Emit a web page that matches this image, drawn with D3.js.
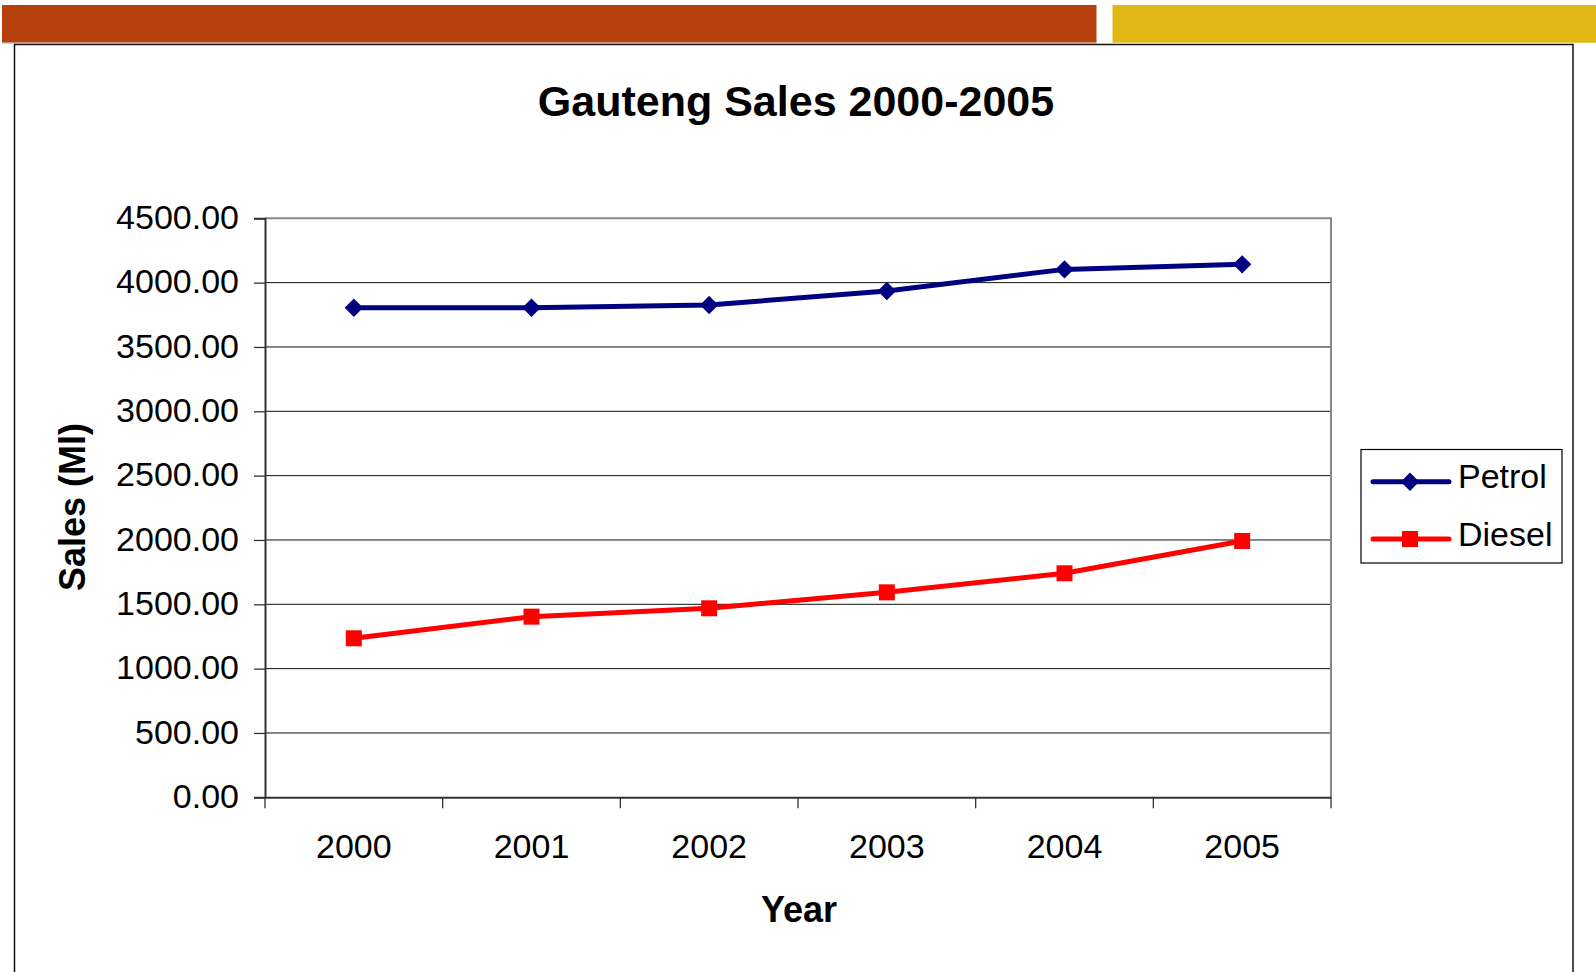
<!DOCTYPE html>
<html>
<head>
<meta charset="utf-8">
<script src="https://cdn.jsdelivr.net/npm/d3@7"></script>
<style>
  body { margin: 0; background: #fff; }
  svg { display: block; font-family: "Liberation Sans", Arial, sans-serif; }
</style>
</head>
<body>
<div id="chart"></div>
<script>
// data
var years = ["2000", "2001", "2002", "2003", "2004", "2005"];
var petrol = [3805, 3805, 3826, 3935, 4103, 4142];
var diesel = [1236, 1404, 1469, 1593, 1741, 1992];
var yTicks = [0, 500, 1000, 1500, 2000, 2500, 3000, 3500, 4000, 4500];
var seriesNames = ["Petrol", "Diesel"];

var svgWidth = 1596, svgHeight = 972;
var plot = {left: 265, right: 1331, top: 218.3, bottom: 797.3};
var petrolColor = "#000080", dieselColor = "#ff0000";

var svg = d3.select("#chart").append("svg")
    .attr("width", svgWidth).attr("height", svgHeight);

// slide header bars + frame
svg.append("rect").attr("x", 2).attr("y", 5).attr("width", 1094.5).attr("height", 37.7).attr("fill", "#b5400c");
svg.append("rect").attr("x", 1112.5).attr("y", 5).attr("width", 483.5).attr("height", 37.7).attr("fill", "#e1b815");
svg.append("line").attr("x1", 2).attr("x2", 1096.5).attr("y1", 43.2).attr("y2", 43.2).attr("stroke", "#bbb").attr("stroke-width", 1);
svg.append("rect").attr("x", 14.5).attr("y", 44.5).attr("width", 1558.5).attr("height", 960)
    .attr("fill", "none").attr("stroke", "#111").attr("stroke-width", 1.5);

// title
svg.append("text").attr("x", 796).attr("y", 116)
    .attr("text-anchor", "middle").attr("font-size", 43).attr("font-weight", "bold")
    .text("Gauteng Sales 2000-2005");

var x = d3.scaleBand().domain(years).range([plot.left, plot.right]);
var y = d3.scaleLinear().domain([0, 4500]).range([plot.bottom, plot.top]);

// gridlines
svg.append("g").selectAll("line").data(yTicks.slice(1, -1)).enter().append("line")
    .attr("x1", plot.left).attr("x2", plot.right)
    .attr("y1", d => y(d)).attr("y2", d => y(d))
    .attr("stroke", "#111").attr("stroke-width", 1);

// plot border (gray top/right)
svg.append("path")
    .attr("d", `M${plot.left},${plot.top}H${plot.right}V${plot.bottom}`)
    .attr("fill", "none").attr("stroke", "#888").attr("stroke-width", 2);

// y axis
var yAxis = svg.append("g").attr("transform", `translate(${plot.left},0)`)
    .call(d3.axisLeft(y).tickValues(yTicks).tickFormat(d3.format(".2f")).tickSize(11).tickPadding(15));
yAxis.select(".domain").attr("stroke", "#333").attr("stroke-width", 2);
yAxis.selectAll(".tick line").attr("stroke", "#333").attr("stroke-width", 1.3);
yAxis.selectAll("text").attr("font-size", 34).attr("fill", "#000")
    .attr("font-family", "Liberation Sans, Arial, sans-serif").attr("dy", "0.3em");

// x axis
var xAxis = svg.append("g").attr("transform", `translate(0,${plot.bottom})`)
    .call(d3.axisBottom(x).tickSize(0).tickPadding(35));
xAxis.select(".domain").attr("stroke", "#333").attr("stroke-width", 2);
xAxis.selectAll("text").attr("font-size", 34).attr("fill", "#000")
    .attr("font-family", "Liberation Sans, Arial, sans-serif").attr("dy", "0.75em");
// tick marks between categories
var bounds = years.map(d => x(d)).concat([x(years[years.length - 1]) + x.bandwidth()]);
xAxis.selectAll(".bound").data(bounds).enter().append("line").attr("class", "bound")
    .attr("x1", d => d).attr("x2", d => d).attr("y1", 0).attr("y2", 11)
    .attr("stroke", "#333").attr("stroke-width", 1.3);

// axis titles
svg.append("text").attr("x", 799).attr("y", 922)
    .attr("text-anchor", "middle").attr("font-size", 36).attr("font-weight", "bold").text("Year");
svg.append("text").attr("transform", "translate(85,507) rotate(-90)")
    .attr("text-anchor", "middle").attr("font-size", 36).attr("font-weight", "bold").text("Sales (Ml)");

var line = d3.line().x((d, i) => x(years[i]) + x.bandwidth() / 2).y(d => y(d));
var diamond = d3.symbol().type(d3.symbolDiamond2).size(215);
var square = d3.symbol().type(d3.symbolSquare).size(256);

// petrol
svg.append("path").datum(petrol).attr("d", line)
    .attr("fill", "none").attr("stroke", petrolColor).attr("stroke-width", 5);
svg.append("g").selectAll("path").data(petrol).enter().append("path")
    .attr("d", diamond)
    .attr("transform", (d, i) => `translate(${x(years[i]) + x.bandwidth() / 2},${y(d)})`)
    .attr("fill", petrolColor);

// diesel
svg.append("path").datum(diesel).attr("d", line)
    .attr("fill", "none").attr("stroke", dieselColor).attr("stroke-width", 5);
svg.append("g").selectAll("path").data(diesel).enter().append("path")
    .attr("d", square)
    .attr("transform", (d, i) => `translate(${x(years[i]) + x.bandwidth() / 2},${y(d)})`)
    .attr("fill", dieselColor);

// legend
var legend = svg.append("g");
legend.append("rect").attr("x", 1361).attr("y", 449.5).attr("width", 201).attr("height", 113.5)
    .attr("fill", "#fff").attr("stroke", "#000").attr("stroke-width", 1.2);
var legendRows = [
  {name: seriesNames[0], color: petrolColor, sym: diamond, y: 481.7},
  {name: seriesNames[1], color: dieselColor, sym: square, y: 539}
];
var row = legend.selectAll(".row").data(legendRows).enter().append("g").attr("class", "row");
row.append("line").attr("x1", 1373).attr("x2", 1449).attr("y1", d => d.y).attr("y2", d => d.y)
    .attr("stroke", d => d.color).attr("stroke-width", 5).attr("stroke-linecap", "round");
row.append("path").attr("d", d => d.sym())
    .attr("transform", d => `translate(1410,${d.y})`).attr("fill", d => d.color);
row.append("text").attr("x", 1458).attr("y", d => d.y + 6.5)
    .attr("font-size", 34).text(d => d.name);
</script>
</body>
</html>
